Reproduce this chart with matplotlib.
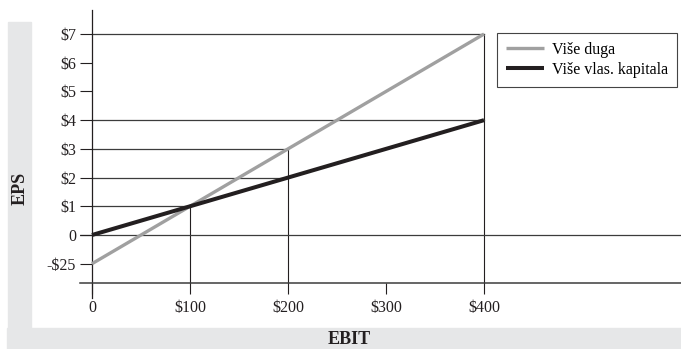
import matplotlib.pyplot as plt
from matplotlib.patches import Rectangle

# EBIT vs EPS for two financing plans
ebit = [0, 100, 200, 400]
eps_debt = [-1, 1, 3, 7]
eps_equity = [0, 1, 2, 4]

y_ticks = [7, 6, 5, 4, 3, 2, 1, 0, -1]
y_labels = [r"\$7", r"\$6", r"\$5", r"\$4", r"\$3", r"\$2", r"\$1", "0", r"-\$25"]
x_ticks = [0, 100, 200, 300, 400]
x_labels = ["0", r"\$100", r"\$200", r"\$300", r"\$400"]

plt.rcParams['font.family'] = ['Liberation Serif', 'DejaVu Serif']

W, H = 681, 349
fig = plt.figure(figsize=(W / 100, H / 100), dpi=100)

# light gray L-shaped band behind the chart
band = '#e6e7e8'
fig.patches.append(Rectangle((8 / W, 0), 23 / W, 1 - 22 / H, transform=fig.transFigure,
                             color=band, zorder=-10))
fig.patches.append(Rectangle((7 / W, 0), 1, 21 / H, transform=fig.transFigure,
                             color=band, zorder=-10))

ax = fig.add_axes([80 / W, 1 - 298 / H, 601 / W, 288 / H])
ax.patch.set_alpha(0)
ax.set_xlim(-12.245, 601.0)
ax.set_ylim(-2.194, 7.837)
y_base = -1.672

ink = '#231f20'
ref = '#3c3c3c'

# reference lines at the points of interest
for i in range(1, len(ebit)):
    top = max(eps_debt[i], eps_equity[i])
    ax.plot([ebit[i], ebit[i]], [y_base, top], color=ink, lw=0.8, zorder=1)
    for v in {eps_debt[i], eps_equity[i]}:
        ax.plot([0, ebit[i]], [v, v], color=ref, lw=0.9, zorder=1)
ax.axhline(0, color=ref, lw=0.9, zorder=1)

ax.plot(ebit, eps_debt, color='#a0a0a0', lw=2.4, label='Više duga',
        solid_capstyle='butt', zorder=3)
ax.plot(ebit, eps_equity, color=ink, lw=2.9, label='Više vlas. kapitala',
        solid_capstyle='butt', zorder=4)

for s in ['top', 'right']:
    ax.spines[s].set_visible(False)
ax.spines['left'].set_position(('data', 0))
ax.spines['bottom'].set_position(('data', y_base))
ax.spines['left'].set_color(ink)
ax.spines['bottom'].set_color(ref)
ax.spines['left'].set_linewidth(0.9)
ax.spines['bottom'].set_linewidth(1.1)

ax.set_yticks(y_ticks)
ax.set_yticklabels(y_labels)
ax.set_xticks(x_ticks)
ax.set_xticklabels(x_labels)
ax.tick_params(axis='y', direction='out', length=8.6, width=0.8, color=ink,
               labelsize=11.5, pad=3, labelcolor=ink)
ax.tick_params(axis='x', direction='out', length=8, width=0.8, color=ink,
               labelsize=11.5, pad=4, labelcolor=ink)

fig.text(20 / W, 1 - 188 / H, 'EPS', rotation=90, ha='center', va='center',
         fontsize=13, fontweight='bold', color=ink)
fig.text(349 / W, 1 - 340 / H, 'EBIT', ha='center', va='center',
         fontsize=13, fontweight='bold', color=ink)

leg = ax.legend(loc='upper left', bbox_to_anchor=(497 / W, 1 - 33 / H),
                bbox_transform=fig.transFigure, borderaxespad=0, fancybox=False,
                framealpha=1, edgecolor='#444444', fontsize=11.5, handlelength=2.4,
                handletextpad=0.5, labelspacing=0.25, borderpad=0.55)
leg.get_frame().set_linewidth(0.8)

fig.savefig('out.png', dpi=100)
